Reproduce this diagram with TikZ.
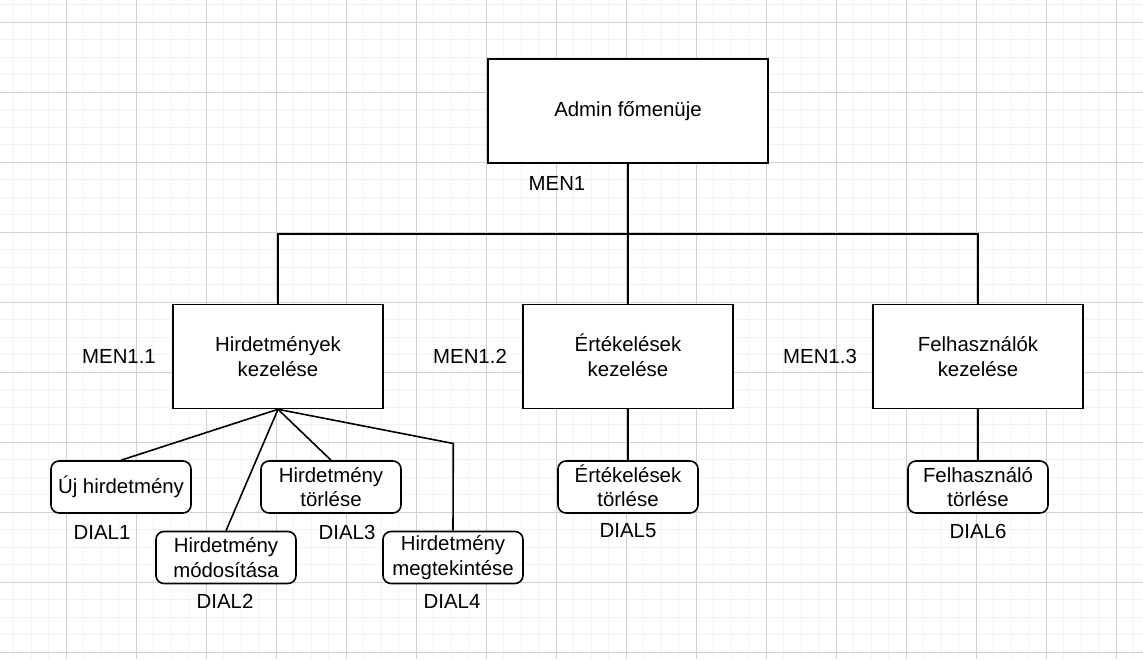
\documentclass[tikz,border=0pt]{standalone}
\usepackage{fontspec}
\setmainfont{Liberation Sans}
\definecolor{gridminor}{HTML}{F2F2F2}
\definecolor{gridmajor}{HTML}{D0D0D0}
\begin{document}
\begin{tikzpicture}[x=1pt,y=-1pt,
  every node/.style={font=\fontsize{20.4}{24.5}\selectfont, text=black, inner sep=0pt, align=center},
  menubox/.style={draw=black, line width=1.6pt, fill=white, minimum width=210pt, minimum height=104pt},
  dialbox/.style={draw=black, line width=1.6pt, fill=white, rounded corners=8pt, minimum width=140pt, minimum height=52pt},
  conn/.style={draw=black, line width=1.6pt},
  minorline/.style={draw=gridminor, line width=0.9pt},
  majorline/.style={draw=gridmajor, line width=1pt},
  lbl/.style={}]
\useasboundingbox (0,0) rectangle (1143,659);
\clip (0,0) rectangle (1143,659);
\fill[white] (0,0) rectangle (1143,659);
% grid
\foreach \i in {0,...,65} \draw[minorline] ({13.8+17.5*\i},0) -- ({13.8+17.5*\i},659);
\foreach \i in {0,...,38} \draw[minorline] (0,{4.8+17.5*\i}) -- (1143,{4.8+17.5*\i});
\foreach \i in {0,...,16} \draw[majorline] ({66.3+70*\i},0) -- ({66.3+70*\i},659);
\foreach \i in {0,...,9} \draw[majorline] (0,{22.3+70*\i}) -- (1143,{22.3+70*\i});
% nodes
\node[menubox, minimum width=280pt, minimum height=104pt] (admin) at (628,111) {Admin főmenüje};
\node[menubox] (hk) at (278,356.5) {Hirdetmények\\kezelése};
\node[menubox] (ek) at (628,356.5) {\smash{É}rtékelések\\kezelése};
\node[menubox] (fk) at (978,356.5) {Felhasználók\\kezelése};
\node[dialbox] (uj) at (121,487) {Új hirdetmény};
\node[dialbox] (mod) at (226,557.5) {Hirdetmény\\módosítása};
\node[dialbox] (tor) at (331,487) {Hirdetmény\\törlése};
\node[dialbox] (meg) at (453,557.5) {Hirdetmény\\megtekintése};
\node[dialbox] (et) at (628,487) {\smash{É}rtékelések\\törlése};
\node[dialbox] (ft) at (978,487) {Felhasználó\\törlése};
% labels
\node[lbl] (lmen1) at (557,183) {MEN1};
\node[lbl] (lmen11) at (119,356.5) {MEN1.1};
\node[lbl] (lmen12) at (470,356.5) {MEN1.2};
\node[lbl] (lmen13) at (820,356.5) {MEN1.3};
\node[lbl] (ld1) at (102,532) {DIAL1};
\node[lbl] (ld2) at (225,601) {DIAL2};
\node[lbl] (ld3) at (347,532) {DIAL3};
\node[lbl] (ld4) at (452,601) {DIAL4};
\node[lbl] (ld5) at (628,531) {DIAL5};
\node[lbl] (ld6) at (978,531) {DIAL6};
% connectors
\coordinate (bar) at (628,234);
\coordinate (bend4) at (453.3,443.5);
\draw[conn] (admin.south) -- (bar);
\draw[conn] (bar) -| (hk.north);
\draw[conn] (bar) -| (fk.north);
\draw[conn] (bar) -- (ek.north);
\draw[conn] (hk.south) -- (uj.north);
\draw[conn] (hk.south) -- (mod.north);
\draw[conn] (hk.south) -- (tor.north);
\draw[conn] (hk.south) -- (bend4) -- (meg.north);
\draw[conn] (ek.south) -- (et.north);
\draw[conn] (fk.south) -- (ft.north);
\end{tikzpicture}
\end{document}
